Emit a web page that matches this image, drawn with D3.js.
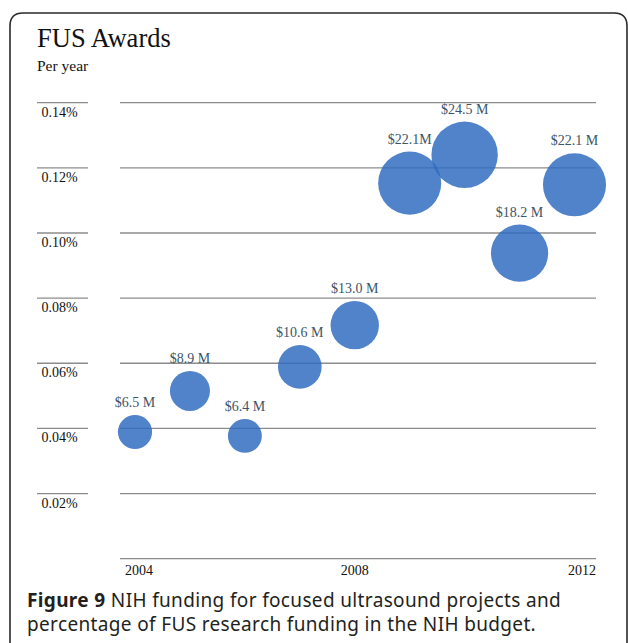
<!DOCTYPE html>
<meta charset="utf-8">
<script src="https://d3js.org/d3.v7.min.js"></script>
<style>
  body { margin: 0; background: #fff; }
</style>
<div id="my_dataviz"></div>
<script>
// data
var years   = [2004, 2005, 2006, 2007, 2008, 2009, 2010, 2011, 2012];
var percent = [0.0389, 0.0515, 0.0377, 0.0589, 0.0717, 0.1153, 0.1240, 0.0938, 0.1148];
var funding = [6.5, 8.9, 6.4, 10.6, 13.0, 22.1, 24.5, 18.2, 22.1];
var labels  = ["$6.5 M", "$8.9 M", "$6.4 M", "$10.6 M", "$13.0 M", "$22.1M", "$24.5 M", "$18.2 M", "$22.1 M"];
var yTicks  = [0.02, 0.04, 0.06, 0.08, 0.10, 0.12, 0.14];
var xTicks  = [2004, 2008, 2012];

var W = 628, H = 643;
var gridLeft = 120, gridRight = 596;

var svg = d3.select("#my_dataviz")
  .append("svg")
    .attr("width", W)
    .attr("height", H);

svg.append("rect").attr("width", W).attr("height", H).attr("fill", "#fff");

// frame with rounded top corners (runs off the bottom)
svg.append("path")
  .attr("d", "M10," + (H + 5) + " L10,26 Q10,13 23,13 L614,13 Q627,13 627,26 L627," + (H + 5))
  .attr("fill", "none")
  .attr("stroke", "#2a2a2a")
  .attr("stroke-width", 1.6);

var x = d3.scaleLinear()
    .domain([2004, 2012])
    .range([135, 574.5]);

var y = d3.scaleLinear()
    .domain([0, 0.14])
    .range([558.7, 102.7]);

var r = d3.scaleSqrt()
    .domain([0, 24.5])
    .range([0, 33.2]);

var serif = "'Liberation Serif', 'Times New Roman', serif";

// title
svg.append("text")
    .attr("x", 37).attr("y", 47)
    .attr("font-family", serif)
    .attr("font-size", "26.5px")
    .attr("fill", "#111")
    .text("FUS Awards");
svg.append("text")
    .attr("x", 37).attr("y", 71)
    .attr("font-family", serif)
    .attr("font-size", "15.5px")
    .attr("fill", "#111")
    .text("Per year");

// grid lines
svg.append("g").selectAll("line")
  .data([0].concat(yTicks))
  .enter().append("line")
    .attr("x1", gridLeft).attr("x2", gridRight)
    .attr("y1", function(d) { return y(d); })
    .attr("y2", function(d) { return y(d); })
    .attr("stroke", "#8c8c8c")
    .attr("stroke-width", 1.3);

// short rules and labels on the left
var yAxis = svg.append("g").selectAll("g")
  .data(yTicks)
  .enter().append("g")
    .attr("transform", function(d) { return "translate(0," + y(d) + ")"; });
yAxis.append("line")
    .attr("x1", 37).attr("x2", 88)
    .attr("stroke", "#8c8c8c")
    .attr("stroke-width", 1.3);
yAxis.append("text")
    .attr("x", 41.5).attr("y", 14)
    .attr("font-family", serif)
    .attr("font-size", "14px")
    .attr("fill", "#111")
    .text(function(d) { return d3.format(".2f")(d) + "%"; });

// year labels: first and last kept inside the grid
svg.append("g").selectAll("text")
  .data(xTicks)
  .enter().append("text")
    .attr("x", function(d, i) {
      if (i == 0) return gridLeft + 5;
      if (i == xTicks.length - 1) return gridRight;
      return x(d);
    })
    .attr("y", 575)
    .attr("text-anchor", function(d, i) {
      return i == 0 ? "start" : (i == xTicks.length - 1 ? "end" : "middle");
    })
    .attr("font-family", serif)
    .attr("font-size", "14px")
    .attr("fill", "#111")
    .text(function(d) { return d; });

var data = years.map(function(yr, i) {
  return {year: yr, pct: percent[i], amount: funding[i], label: labels[i]};
});

// bubbles
svg.append("g")
  .selectAll("circle")
  .data(data)
  .enter()
  .append("circle")
    .attr("cx", function(d) { return x(d.year); })
    .attr("cy", function(d) { return y(d.pct); })
    .attr("r", function(d) { return r(d.amount); })
    .attr("fill", "#2e6bc0")
    .attr("fill-opacity", 0.84);

// amount labels above each bubble
svg.append("g")
  .selectAll("text")
  .data(data)
  .enter()
  .append("text")
    .attr("x", function(d) { return x(d.year); })
    .attr("y", function(d) { return y(d.pct) - r(d.amount) - 8; })
    .attr("text-anchor", "middle")
    .attr("font-family", serif)
    .attr("font-size", "14px")
    .attr("fill", "#3b5568")
    .text(function(d) { return d.label; });

// caption
var cap = svg.append("text")
    .attr("font-family", "'Noto Sans', 'Open Sans', sans-serif")
    .attr("font-size", "19px")
    .attr("letter-spacing", "0.35px")
    .attr("fill", "#231f20");
var l1 = cap.append("tspan").attr("x", 27).attr("y", 607);
l1.append("tspan").attr("font-weight", "bold").text("Figure 9");
l1.append("tspan").text(" NIH funding for focused ultrasound projects and");
cap.append("tspan").attr("x", 27).attr("y", 631)
    .text("percentage of FUS research funding in the NIH budget.");
</script>
